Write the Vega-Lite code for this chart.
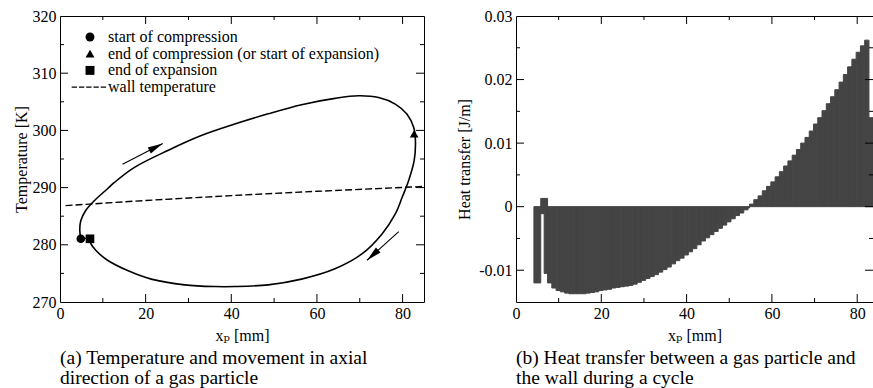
{
  "$schema": "https://vega.github.io/schema/vega-lite/v6.json",
  "padding": {"top": 7, "left": 12, "right": 0, "bottom": 0},
  "background": "white",
  "spacing": 28,
  "config": {
    "font": "Liberation Serif, Times New Roman, DejaVu Serif, serif",
    "view": {"stroke": "black", "strokeWidth": 1},
    "axis": {
      "labelFont": "Liberation Serif, Times New Roman, DejaVu Serif, serif", "labelFontSize": 16, "labelColor": "black",
      "titleFont": "Liberation Serif, Times New Roman, DejaVu Serif, serif", "titleFontSize": 16, "titleFontWeight": "normal", "titleColor": "black",
      "domain": false, "grid": false, "ticks": false,
      "labelFlush": false, "labelOverlap": false, "minExtent": 0
    },
    "legend": {"labelFont": "Liberation Serif, Times New Roman, DejaVu Serif, serif"},
    "title": {"font": "Liberation Serif, Times New Roman, DejaVu Serif, serif", "fontSize": 19.5, "fontWeight": "normal", "color": "black", "lineHeight": 20, "orient": "bottom", "anchor": "start", "frame": "group", "offset": 6}
  },
  "datasets": {
    "xticks": [
      {"v": 10, "k": "minor"}, {"v": 20, "k": "major"}, {"v": 30, "k": "minor"}, {"v": 40, "k": "major"},
      {"v": 50, "k": "minor"}, {"v": 60, "k": "major"}, {"v": 70, "k": "minor"}, {"v": 80, "k": "major"}
    ],
    "tticks": [
      {"v": 275, "k": "minor"}, {"v": 280, "k": "major"}, {"v": 285, "k": "minor"}, {"v": 290, "k": "major"},
      {"v": 295, "k": "minor"}, {"v": 300, "k": "major"}, {"v": 305, "k": "minor"}, {"v": 310, "k": "major"}, {"v": 315, "k": "minor"}
    ],
    "qticks": [
      {"v": -0.01, "k": "major"}, {"v": -0.005, "k": "minor"}, {"v": 0, "k": "major"}, {"v": 0.005, "k": "minor"},
      {"v": 0.01, "k": "major"}, {"v": 0.015, "k": "minor"}, {"v": 0.02, "k": "major"}, {"v": 0.025, "k": "minor"}
    ],
    "loop": [
      {"i": 0, "x": 4.86, "T": 281.05},
      {"i": 1, "x": 4.62, "T": 282.5},
      {"i": 2, "x": 4.85, "T": 284.2},
      {"i": 3, "x": 6.0, "T": 286.0},
      {"i": 4, "x": 8.0, "T": 287.7},
      {"i": 5, "x": 11.1, "T": 289.8},
      {"i": 6, "x": 12.7, "T": 290.9},
      {"i": 7, "x": 17.3, "T": 293.5},
      {"i": 8, "x": 25.2, "T": 296.5},
      {"i": 9, "x": 33.0, "T": 299.1},
      {"i": 10, "x": 40.8, "T": 301.1},
      {"i": 11, "x": 48.6, "T": 302.9},
      {"i": 12, "x": 56.4, "T": 304.5},
      {"i": 13, "x": 64.2, "T": 305.6},
      {"i": 14, "x": 69.7, "T": 306.05},
      {"i": 15, "x": 74.4, "T": 305.75},
      {"i": 16, "x": 78.3, "T": 304.6},
      {"i": 17, "x": 81.0, "T": 302.85},
      {"i": 18, "x": 82.6, "T": 300.5},
      {"i": 19, "x": 83.0, "T": 298.2},
      {"i": 20, "x": 82.7, "T": 294.7},
      {"i": 21, "x": 81.4, "T": 291.2},
      {"i": 22, "x": 79.9, "T": 288.3},
      {"i": 23, "x": 78.3, "T": 285.4},
      {"i": 24, "x": 75.2, "T": 281.9},
      {"i": 25, "x": 70.5, "T": 278.4},
      {"i": 26, "x": 64.2, "T": 275.8},
      {"i": 27, "x": 56.4, "T": 274.0},
      {"i": 28, "x": 48.6, "T": 273.0},
      {"i": 29, "x": 40.8, "T": 272.7},
      {"i": 30, "x": 36.1, "T": 272.7},
      {"i": 31, "x": 29.1, "T": 273.0},
      {"i": 32, "x": 21.3, "T": 274.0},
      {"i": 33, "x": 15.8, "T": 275.5},
      {"i": 34, "x": 11.1, "T": 277.3},
      {"i": 35, "x": 8.4, "T": 279.0},
      {"i": 36, "x": 7.2, "T": 280.2},
      {"i": 37, "x": 7.0, "T": 281.05},
      {"i": 38, "x": 4.86, "T": 281.05}
    ],
    "wall": [
      {"x": 1.3, "T": 286.85},
      {"x": 20, "T": 287.75},
      {"x": 40, "T": 288.6},
      {"x": 60, "T": 289.35},
      {"x": 85, "T": 290.2}
    ],
    "events": [
      {"event": "start of compression", "x": 4.86, "T": 281.05},
      {"event": "end of compression (or start of expansion)", "x": 82.7, "T": 299.4},
      {"event": "end of expansion", "x": 7.0, "T": 281.05}
    ],
    "arrows": [
      {"arrow": "up", "x": 14.6, "T": 294.1, "x2": 24.0, "T2": 297.7},
      {"arrow": "down", "x": 79.1, "T": 282.3, "x2": 71.7, "T2": 277.3}
    ],
    "heat": [
      {"x0": 4.2, "x1": 5.8, "q": -0.0120},
      {"x0": 5.8, "x1": 6.6, "q": -0.0011},
      {"x0": 5.8, "x1": 7.4, "q": 0.0013},
      {"x0": 6.6, "x1": 7.4, "q": -0.0105},
      {"x0": 7.4, "x1": 8.4, "q": -0.0120},
      {"x0": 8.4, "x1": 9.4, "q": -0.0128},
      {"x0": 9.4, "x1": 10.4, "q": -0.0132},
      {"x0": 10.4, "x1": 11.4, "q": -0.0134},
      {"x0": 11.4, "x1": 12.4, "q": -0.0136},
      {"x0": 12.4, "x1": 13.4, "q": -0.0137},
      {"x0": 13.4, "x1": 14.4, "q": -0.0137},
      {"x0": 14.4, "x1": 15.4, "q": -0.0137},
      {"x0": 15.4, "x1": 16.4, "q": -0.0137},
      {"x0": 16.4, "x1": 17.4, "q": -0.0136},
      {"x0": 17.4, "x1": 18.4, "q": -0.0135},
      {"x0": 18.4, "x1": 19.4, "q": -0.0134},
      {"x0": 19.4, "x1": 20.4, "q": -0.0132},
      {"x0": 20.4, "x1": 21.4, "q": -0.0131},
      {"x0": 21.4, "x1": 22.4, "q": -0.0130},
      {"x0": 22.4, "x1": 23.4, "q": -0.0128},
      {"x0": 23.4, "x1": 24.4, "q": -0.0127},
      {"x0": 24.4, "x1": 25.4, "q": -0.0126},
      {"x0": 25.4, "x1": 26.4, "q": -0.0125},
      {"x0": 26.4, "x1": 27.4, "q": -0.0124},
      {"x0": 27.4, "x1": 28.4, "q": -0.0122},
      {"x0": 28.4, "x1": 29.4, "q": -0.0119},
      {"x0": 29.4, "x1": 30.4, "q": -0.0116},
      {"x0": 30.4, "x1": 31.4, "q": -0.0113},
      {"x0": 31.4, "x1": 32.4, "q": -0.0110},
      {"x0": 32.4, "x1": 33.4, "q": -0.0107},
      {"x0": 33.4, "x1": 34.4, "q": -0.0103},
      {"x0": 34.4, "x1": 35.4, "q": -0.0099},
      {"x0": 35.4, "x1": 36.4, "q": -0.0095},
      {"x0": 36.4, "x1": 37.4, "q": -0.0090},
      {"x0": 37.4, "x1": 38.4, "q": -0.0085},
      {"x0": 38.4, "x1": 39.4, "q": -0.0081},
      {"x0": 39.4, "x1": 40.4, "q": -0.0076},
      {"x0": 40.4, "x1": 41.4, "q": -0.0071},
      {"x0": 41.4, "x1": 42.4, "q": -0.0066},
      {"x0": 42.4, "x1": 43.4, "q": -0.0060},
      {"x0": 43.4, "x1": 44.4, "q": -0.0054},
      {"x0": 44.4, "x1": 45.4, "q": -0.0049},
      {"x0": 45.4, "x1": 46.4, "q": -0.0044},
      {"x0": 46.4, "x1": 47.4, "q": -0.0039},
      {"x0": 47.4, "x1": 48.4, "q": -0.0034},
      {"x0": 48.4, "x1": 49.4, "q": -0.0029},
      {"x0": 49.4, "x1": 50.4, "q": -0.0024},
      {"x0": 50.4, "x1": 51.4, "q": -0.0019},
      {"x0": 51.4, "x1": 52.4, "q": -0.0014},
      {"x0": 52.4, "x1": 53.4, "q": -0.0010},
      {"x0": 53.4, "x1": 54.4, "q": -0.0005},
      {"x0": 54.4, "x1": 54.75, "q": -0.0002},
      {"x0": 54.75, "x1": 55.75, "q": 0.0004},
      {"x0": 55.75, "x1": 56.75, "q": 0.0011},
      {"x0": 56.75, "x1": 57.75, "q": 0.0017},
      {"x0": 57.75, "x1": 58.75, "q": 0.0025},
      {"x0": 58.75, "x1": 59.75, "q": 0.0032},
      {"x0": 59.75, "x1": 60.75, "q": 0.0039},
      {"x0": 60.75, "x1": 61.75, "q": 0.0047},
      {"x0": 61.75, "x1": 62.75, "q": 0.0055},
      {"x0": 62.75, "x1": 63.75, "q": 0.0064},
      {"x0": 63.75, "x1": 64.75, "q": 0.0072},
      {"x0": 64.75, "x1": 65.75, "q": 0.0081},
      {"x0": 65.75, "x1": 66.75, "q": 0.0090},
      {"x0": 66.75, "x1": 67.75, "q": 0.0100},
      {"x0": 67.75, "x1": 68.75, "q": 0.0109},
      {"x0": 68.75, "x1": 69.75, "q": 0.0119},
      {"x0": 69.75, "x1": 70.75, "q": 0.0130},
      {"x0": 70.75, "x1": 71.75, "q": 0.0140},
      {"x0": 71.75, "x1": 72.75, "q": 0.0151},
      {"x0": 72.75, "x1": 73.75, "q": 0.0162},
      {"x0": 73.75, "x1": 74.75, "q": 0.0173},
      {"x0": 74.75, "x1": 75.75, "q": 0.0184},
      {"x0": 75.75, "x1": 76.75, "q": 0.0196},
      {"x0": 76.75, "x1": 77.75, "q": 0.0208},
      {"x0": 77.75, "x1": 78.75, "q": 0.0220},
      {"x0": 78.75, "x1": 79.75, "q": 0.0232},
      {"x0": 79.75, "x1": 80.75, "q": 0.0243},
      {"x0": 80.75, "x1": 81.75, "q": 0.0253},
      {"x0": 81.75, "x1": 82.75, "q": 0.0262},
      {"x0": 82.75, "x1": 83.75, "q": 0.0140}
    ]
  },
  "hconcat": [
    {
      "width": 364,
      "height": 286,
      "title": {"text": ["(a) Temperature and movement in axial", "direction of a gas particle"]},
      "layer": [
        {
          "data": {"name": "loop"},
          "mark": {"type": "line", "color": "black", "strokeWidth": 1.6, "interpolate": "catmull-rom"},
          "encoding": {
            "x": {"field": "x", "type": "quantitative", "scale": {"domain": [0, 85], "nice": false},
              "axis": {"orient": "bottom", "values": [0, 20, 40, 60, 80],
                "labelPadding": 3, "title": "xₚ [mm]", "titlePadding": 6}},
            "y": {"field": "T", "type": "quantitative", "scale": {"domain": [270, 320], "nice": false, "zero": false},
              "axis": {"orient": "left", "values": [270, 280, 290, 300, 310, 320],
                "labelPadding": 4, "title": "Temperature [K]", "titlePadding": 3}},
            "order": {"field": "i", "type": "quantitative"}
          }
        },
        {
          "data": {"name": "wall"},
          "mark": {"type": "line", "color": "black", "strokeWidth": 1.4, "strokeDash": [7, 3]},
          "encoding": {
            "x": {"field": "x", "type": "quantitative"},
            "y": {"field": "T", "type": "quantitative"}
          }
        },
        {
          "data": {"name": "xticks"},
          "transform": [{"filter": "datum.k == 'major'"}],
          "mark": {"type": "rule", "color": "black", "strokeWidth": 1},
          "encoding": {"x": {"field": "v", "type": "quantitative"}, "y": {"datum": 270, "type": "quantitative"}, "y2": {"datum": 271.4}}
        },
        {
          "data": {"name": "xticks"},
          "transform": [{"filter": "datum.k == 'minor'"}],
          "mark": {"type": "rule", "color": "black", "strokeWidth": 1},
          "encoding": {"x": {"field": "v", "type": "quantitative"}, "y": {"datum": 270, "type": "quantitative"}, "y2": {"datum": 270.7}}
        },
        {
          "data": {"name": "xticks"},
          "transform": [{"filter": "datum.k == 'major'"}],
          "mark": {"type": "rule", "color": "black", "strokeWidth": 1},
          "encoding": {"x": {"field": "v", "type": "quantitative"}, "y": {"datum": 320, "type": "quantitative"}, "y2": {"datum": 318.6}}
        },
        {
          "data": {"name": "xticks"},
          "transform": [{"filter": "datum.k == 'minor'"}],
          "mark": {"type": "rule", "color": "black", "strokeWidth": 1},
          "encoding": {"x": {"field": "v", "type": "quantitative"}, "y": {"datum": 320, "type": "quantitative"}, "y2": {"datum": 319.3}}
        },
        {
          "data": {"name": "tticks"},
          "transform": [{"filter": "datum.k == 'major'"}],
          "mark": {"type": "rule", "color": "black", "strokeWidth": 1},
          "encoding": {"y": {"field": "v", "type": "quantitative"}, "x": {"datum": 0, "type": "quantitative"}, "x2": {"datum": 1.87}}
        },
        {
          "data": {"name": "tticks"},
          "transform": [{"filter": "datum.k == 'minor'"}],
          "mark": {"type": "rule", "color": "black", "strokeWidth": 1},
          "encoding": {"y": {"field": "v", "type": "quantitative"}, "x": {"datum": 0, "type": "quantitative"}, "x2": {"datum": 0.93}}
        },
        {
          "data": {"name": "tticks"},
          "transform": [{"filter": "datum.k == 'major'"}],
          "mark": {"type": "rule", "color": "black", "strokeWidth": 1},
          "encoding": {"y": {"field": "v", "type": "quantitative"}, "x": {"datum": 85, "type": "quantitative"}, "x2": {"datum": 83.13}}
        },
        {
          "data": {"name": "tticks"},
          "transform": [{"filter": "datum.k == 'minor'"}],
          "mark": {"type": "rule", "color": "black", "strokeWidth": 1},
          "encoding": {"y": {"field": "v", "type": "quantitative"}, "x": {"datum": 85, "type": "quantitative"}, "x2": {"datum": 84.07}}
        },
        {
          "data": {"name": "arrows"},
          "mark": {"type": "rule", "color": "black", "strokeWidth": 1.1},
          "encoding": {
            "x": {"field": "x", "type": "quantitative"},
            "y": {"field": "T", "type": "quantitative"},
            "x2": {"field": "x2"},
            "y2": {"field": "T2"}
          }
        },
        {
          "data": {"name": "arrows"},
          "transform": [{"filter": "datum.arrow == 'up'"}],
          "mark": {"type": "point", "shape": "M0,0L0.45,2L-0.45,2Z", "filled": true, "color": "black", "size": 230, "angle": 63, "opacity": 1},
          "encoding": {
            "x": {"field": "x2", "type": "quantitative"},
            "y": {"field": "T2", "type": "quantitative"}
          }
        },
        {
          "data": {"name": "arrows"},
          "transform": [{"filter": "datum.arrow == 'down'"}],
          "mark": {"type": "point", "shape": "M0,0L0.45,2L-0.45,2Z", "filled": true, "color": "black", "size": 230, "angle": 227.5, "opacity": 1},
          "encoding": {
            "x": {"field": "x2", "type": "quantitative"},
            "y": {"field": "T2", "type": "quantitative"}
          }
        },
        {
          "data": {"name": "events"},
          "mark": {"type": "point", "filled": true, "color": "black", "size": 75, "opacity": 1},
          "encoding": {
            "x": {"field": "x", "type": "quantitative"},
            "y": {"field": "T", "type": "quantitative"},
            "shape": {"field": "event", "type": "nominal",
              "scale": {"domain": ["start of compression", "end of compression (or start of expansion)", "end of expansion", "wall temperature"],
                "range": ["circle", "triangle-up", "square", "M-4.1,-0.16H-2.9V0.16H-4.1ZM-2.475,-0.16H-1.275V0.16H-2.475ZM-0.85,-0.16H0.35V0.16H-0.85ZM0.775,-0.16H1.975V0.16H0.775ZM2.4,-0.16H3.6V0.16H2.4Z"]},
              "legend": {"orient": "none", "legendX": 22, "legendY": 13, "title": null, "padding": 0,
                "labelFont": "Liberation Serif, Times New Roman, DejaVu Serif, serif", "labelFontSize": 16, "labelColor": "black", "labelLimit": 400,
                "symbolSize": 80, "symbolFillColor": "black", "symbolStrokeWidth": 0, "symbolOpacity": 1,
                "labelOffset": 10, "rowPadding": 0.7}}
          }
        }
      ]
    },
    {
      "width": 357,
      "height": 286,
      "title": {"text": ["(b) Heat transfer between a gas particle and", "the wall during a cycle"]},
      "layer": [
        {
          "data": {"name": "heat"},
          "mark": {"type": "rect", "color": "#444444", "stroke": "#444444", "strokeWidth": 1},
          "encoding": {
            "x": {"field": "x0", "type": "quantitative", "scale": {"domain": [0, 83.7], "nice": false},
              "axis": {"orient": "bottom", "values": [0, 20, 40, 60, 80],
                "labelPadding": 3, "title": "xₚ [mm]", "titlePadding": 6}},
            "x2": {"field": "x1"},
            "y": {"field": "q", "type": "quantitative", "scale": {"domain": [-0.015, 0.03], "nice": false, "zero": false},
              "axis": {"orient": "left", "values": [-0.01, 0, 0.01, 0.02, 0.03],
                "labelExpr": "'' + datum.value",
                "labelPadding": 4, "title": "Heat transfer [J/m]", "titlePadding": 6}},
            "y2": {"datum": 0}
          }
        },
        {
          "data": {"name": "xticks"},
          "transform": [{"filter": "datum.k == 'major'"}],
          "mark": {"type": "rule", "color": "black", "strokeWidth": 1},
          "encoding": {"x": {"field": "v", "type": "quantitative"}, "y": {"datum": -0.015, "type": "quantitative"}, "y2": {"datum": -0.01374}}
        },
        {
          "data": {"name": "xticks"},
          "transform": [{"filter": "datum.k == 'minor'"}],
          "mark": {"type": "rule", "color": "black", "strokeWidth": 1},
          "encoding": {"x": {"field": "v", "type": "quantitative"}, "y": {"datum": -0.015, "type": "quantitative"}, "y2": {"datum": -0.01437}}
        },
        {
          "data": {"name": "xticks"},
          "transform": [{"filter": "datum.k == 'major'"}],
          "mark": {"type": "rule", "color": "black", "strokeWidth": 1},
          "encoding": {"x": {"field": "v", "type": "quantitative"}, "y": {"datum": 0.03, "type": "quantitative"}, "y2": {"datum": 0.02874}}
        },
        {
          "data": {"name": "xticks"},
          "transform": [{"filter": "datum.k == 'minor'"}],
          "mark": {"type": "rule", "color": "black", "strokeWidth": 1},
          "encoding": {"x": {"field": "v", "type": "quantitative"}, "y": {"datum": 0.03, "type": "quantitative"}, "y2": {"datum": 0.02937}}
        },
        {
          "data": {"name": "qticks"},
          "transform": [{"filter": "datum.k == 'major'"}],
          "mark": {"type": "rule", "color": "black", "strokeWidth": 1},
          "encoding": {"y": {"field": "v", "type": "quantitative"}, "x": {"datum": 0, "type": "quantitative"}, "x2": {"datum": 1.88}}
        },
        {
          "data": {"name": "qticks"},
          "transform": [{"filter": "datum.k == 'minor'"}],
          "mark": {"type": "rule", "color": "black", "strokeWidth": 1},
          "encoding": {"y": {"field": "v", "type": "quantitative"}, "x": {"datum": 0, "type": "quantitative"}, "x2": {"datum": 0.94}}
        },
        {
          "data": {"name": "qticks"},
          "transform": [{"filter": "datum.k == 'major'"}],
          "mark": {"type": "rule", "color": "black", "strokeWidth": 1},
          "encoding": {"y": {"field": "v", "type": "quantitative"}, "x": {"datum": 83.7, "type": "quantitative"}, "x2": {"datum": 81.82}}
        },
        {
          "data": {"name": "qticks"},
          "transform": [{"filter": "datum.k == 'minor'"}],
          "mark": {"type": "rule", "color": "black", "strokeWidth": 1},
          "encoding": {"y": {"field": "v", "type": "quantitative"}, "x": {"datum": 83.7, "type": "quantitative"}, "x2": {"datum": 82.76}}
        }
      ]
    }
  ]
}
